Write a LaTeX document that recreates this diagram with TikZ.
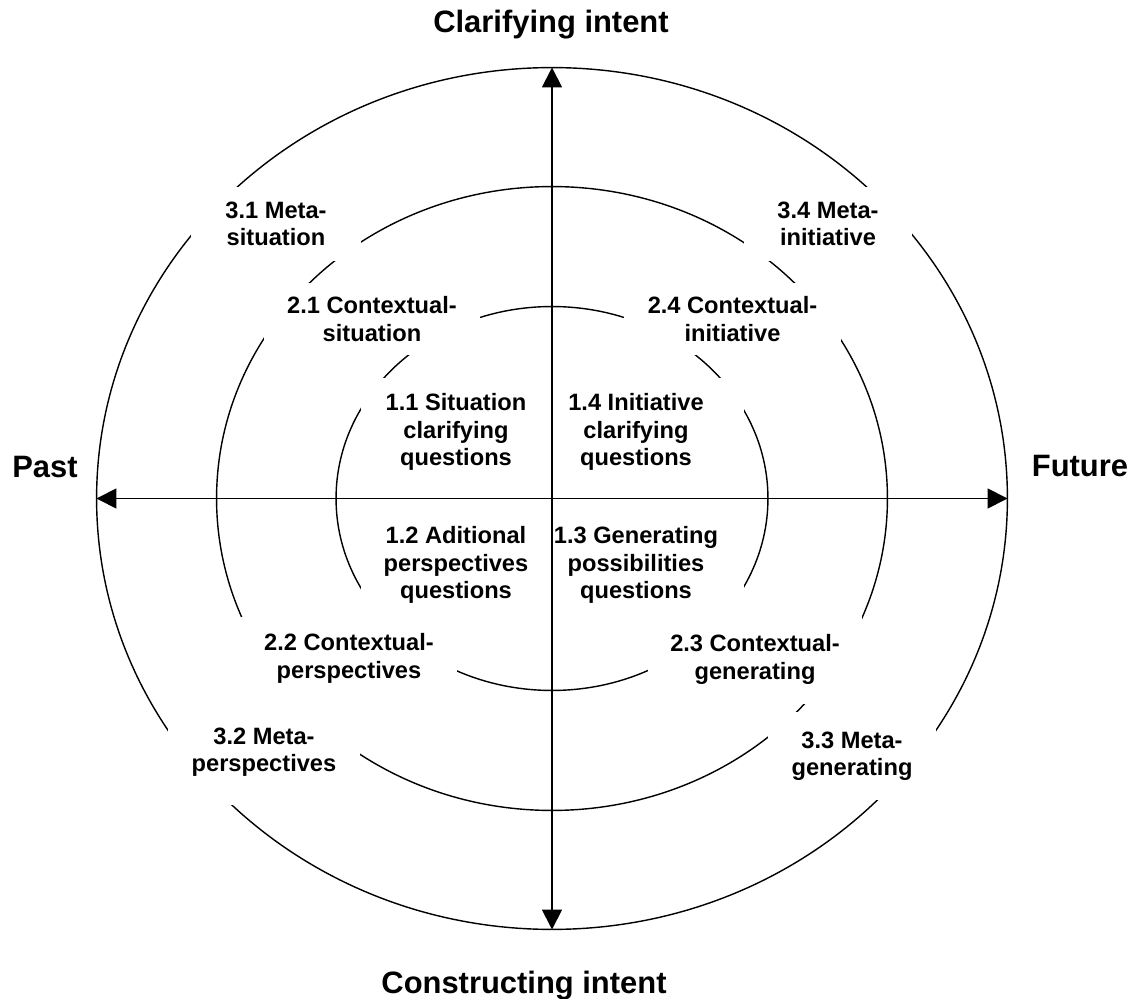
\documentclass[tikz,border=0pt]{standalone}
\usepackage{fontspec}
\setmainfont{Liberation Sans}
\usetikzlibrary{arrows.meta}
\newcommand{\zonefont}{\fontsize{13.46}{15.6}\selectfont\bfseries}
\newcommand{\polefont}{\fontsize{17.6}{20}\selectfont\bfseries}
\tikzset{
  ring/.style={line width=0.8pt},
  axis/.style={line width=1.05pt,
    {Triangle[length=11.3pt,width=11.3pt]}-{Triangle[length=11.3pt,width=11.3pt]}},
  zone/.style={fill=white, inner sep=0pt, align=center, font=\zonefont},
  pole/.style={font=\polefont, inner sep=0pt, anchor=base},
}
\begin{document}
\begin{tikzpicture}[x=0.02cm, y=-0.02cm]
\useasboundingbox (0,0) rectangle (1133,999);

% centre of the three rings
\coordinate (O) at (552,498.5);

% three concentric rings
\draw[ring] (O) ellipse [x radius=9.11cm, y radius=8.62cm];
\draw[ring] (O) ellipse [x radius=6.71cm, y radius=6.24cm];
\draw[ring] (O) ellipse [x radius=4.32cm, y radius=3.84cm];

% zone labels (white boxes open the rings around the text)
\node[zone, minimum width=3.4cm,  minimum height=1.48cm] (z31) at (276,224)   {3.1 Meta-\\situation};
\node[zone, minimum width=3.36cm, minimum height=1.48cm] (z34) at (828,224)   {3.4 Meta-\\initiative};
\node[zone, minimum width=4.32cm, minimum height=1.44cm] (z21) at (372,319)   {2.1 Contextual-\\situation};
\node[zone, minimum width=4.34cm, minimum height=1.44cm] (z24) at (732.5,319) {2.4 Contextual-\\initiative};
\node[zone, minimum width=3.8cm,  minimum height=2.16cm] (z11) at (456,432)   {1.1 Situation\\clarifying\\questions};
\node[zone, minimum width=4.32cm, minimum height=2.16cm] (z14) at (636,432)   {1.4 Initiative\\clarifying\\questions};
\node[zone, minimum width=3.8cm,  minimum height=2.28cm] (z12) at (456,565)   {1.2 Aditional\\perspectives\\questions};
\node[zone, minimum width=4.32cm, minimum height=2.28cm] (z13) at (636,565)   {1.3 Generating\\possibilities\\questions};
\node[zone, minimum width=4.32cm, minimum height=1.66cm] (z22) at (349,658.5) {2.2 Contextual-\\perspectives};
\node[zone, minimum width=4.28cm, minimum height=1.78cm] (z23) at (755,659.5) {2.3 Contextual-\\generating};
\node[zone, minimum width=3.84cm, minimum height=2.12cm] (z32) at (264,752)   {3.2 Meta-\\perspectives};
\node[zone, minimum width=3.36cm, minimum height=1.76cm] (z33) at (852,756)   {3.3 Meta-\\generating};

% axis end points on the outer ring
\coordinate (top)    at (552,67.5);
\coordinate (bottom) at (552,929.5);
\coordinate (left)   at (96.5,498.5);
\coordinate (right)  at (1007.5,498.5);

\draw[axis] (bottom) -- (top);
\draw[axis] (left) -- (right);

% pole titles
\node[pole] (clar)  at (551,33)   {Clarifying intent};
\node[pole] (cons)  at (524,993)  {Constructing intent};
\node[pole] (past)  at (45,478)   {Past};
\node[pole] (fut)   at (1080,477) {Future};
\end{tikzpicture}
\end{document}
